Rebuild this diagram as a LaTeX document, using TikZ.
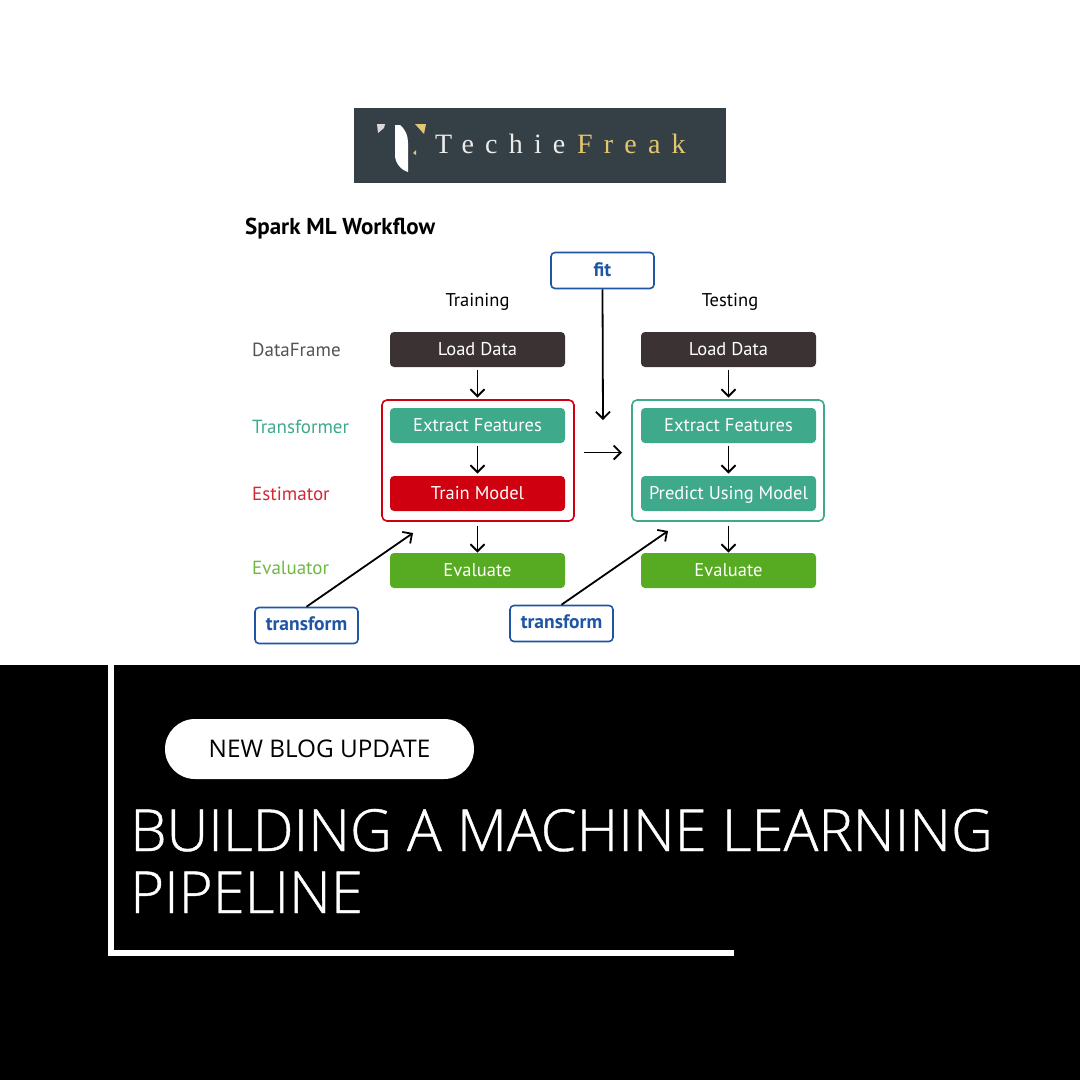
\documentclass[tikz,border=0pt]{standalone}
\usepackage{fontspec}
\setmainfont{PT Sans}
\newfontfamily\bannerfont[FakeBold=0.7]{Open Sans Light}
\newfontfamily\badgefont{Open Sans}
\newfontfamily\logofont[LetterSpace=40]{Liberation Serif}
\usetikzlibrary{positioning}
\usetikzlibrary{arrows.meta}
\definecolor{logobg}{HTML}{344045}
\definecolor{logogold}{HTML}{E3C670}
\definecolor{loadcol}{HTML}{3B3233}
\definecolor{transcol}{HTML}{3FA98C}
\definecolor{estcol}{HTML}{CF000F}
\definecolor{evalcol}{HTML}{57AB23}
\definecolor{callcol}{HTML}{1F55A5}
\tikzset{
    stage/.style = {rectangle, rounded corners = 4pt, minimum width = 175pt, minimum height = 35pt, inner sep = 0pt, text = white, text height = 15pt, text depth = 3pt, font = \fontsize{18.5}{18.5}\selectfont},
    callbox/.style = {rectangle, draw = callcol, line width = 1.6pt, fill = white, rounded corners = 4pt, minimum width = 103pt, minimum height = 36pt, inner sep = 0pt, text = callcol, text height = 14pt, text depth = 5pt, font = \fontsize{19.5}{19.5}\selectfont\bfseries},
    rowlabel/.style = {anchor = base west, inner sep = 0pt, font = \fontsize{19}{19}\selectfont},
    columnhead/.style = {anchor = base, inner sep = 0pt, font = \fontsize{18.5}{18.5}\selectfont},
    flow/.style = {black, line width = 1.8pt, -{Straight Barb[length = 7pt, width = 14pt]}}
}
\begin{document}
\begin{tikzpicture}[x = 1pt, y = -1pt]
    \useasboundingbox (0, 0) rectangle (1080, 1080);
    \fill[white] (0, 0) rectangle (1080, 665);
    \fill[black] (0, 665) rectangle (1080, 1080);
    % logo
    \fill[logobg] (354, 108) rectangle (726, 183);
    \fill[white] (395, 125) -- (400, 125) .. controls (406, 130) and (408, 136) .. (408, 143) -- (408, 172) .. controls (401, 170) and (395, 163) .. (395, 155) -- cycle;
    \fill[white!85!black] (377, 124) -- (385, 124) -- (384, 128) -- (378, 133) -- cycle;
    \fill[logogold] (415, 124) -- (426, 124) -- (424, 134) -- cycle;
    \fill[logogold] (416, 150) -- (416, 155) -- (413, 153) -- cycle;
    \node[anchor = base west, inner sep = 0pt, text = white!85!gray, font = \fontsize{28}{28}\logofont] (logotechie) at (435, 153) {Techie};
    \node[anchor = base west, inner sep = 0pt, text = logogold, font = \fontsize{28}{28}\logofont] (logofreak) at (577, 153) {Freak};
    % diagram
    \node[anchor = base west, inner sep = 0pt, font = \fontsize{23}{23}\selectfont\bfseries] (title) at (245, 234) {Spark ML Workflow};
    \node[columnhead] (training) at (477.5, 306) {Training};
    \node[columnhead] (testing) at (730, 306) {Testing};
    \node[rowlabel, text = loadcol!85!white] (dataframe) at (252, 356) {DataFrame};
    \node[rowlabel, text = transcol] (transformer) at (252, 433) {Transformer};
    \node[rowlabel, text = estcol!85!white] (estimator) at (252, 500) {Estimator};
    \node[rowlabel, text = evalcol!85!white] (evaluator) at (252, 574) {Evaluator};
    \draw[estcol, line width = 1.6pt, rounded corners = 5pt] (382, 400) rectangle (574, 521);
    \draw[transcol, line width = 1.6pt, rounded corners = 5pt] (632, 400) rectangle (824, 521);
    \node[stage, fill = loadcol] (loadtrain) at (477.5, 349.5) {Load Data};
    \node[stage, fill = transcol] (extracttrain) at (477.5, 425.5) {Extract Features};
    \node[stage, fill = estcol] (trainmodel) at (477.5, 493.5) {Train Model};
    \node[stage, fill = evalcol] (evaltrain) at (477.5, 570.5) {Evaluate};
    \node[stage, fill = loadcol] (loadtest) at (728.5, 349.5) {Load Data};
    \node[stage, fill = transcol] (extracttest) at (728.5, 425.5) {Extract Features};
    \node[stage, fill = transcol] (predict) at (728.5, 493.5) {Predict Using Model};
    \node[stage, fill = evalcol] (evaltest) at (728.5, 570.5) {Evaluate};
    \node[callbox, text height = 16pt, text depth = 4pt] (fit) at (602.5, 270.5) {fit};
    \node[callbox] (transformtrain) at (306.5, 625.5) {transform};
    \node[callbox] (transformtest) at (561.5, 623.5) {transform};
    \coordinate (fitend) at (603, 420);
    \coordinate (nextstart) at (584, 452.5);
    \coordinate (nextend) at (622, 452.5);
    \coordinate (trainend) at (413, 533);
    \coordinate (testend) at (668, 531);
    \draw[flow] (loadtrain) ++(0, 20) -- ++(0, 28);
    \draw[flow] (extracttrain) ++(0, 20) -- ++(0, 28);
    \draw[flow] (trainmodel) ++(0, 32) -- ++(0, 27);
    \draw[flow] (loadtest) ++(0, 20) -- ++(0, 28);
    \draw[flow] (extracttest) ++(0, 20) -- ++(0, 28);
    \draw[flow] (predict) ++(0, 32) -- ++(0, 27);
    \draw[flow] (fit.south) -- (fitend);
    \draw[flow] (nextstart) -- (nextend);
    \draw[flow] (transformtrain.north) -- (trainend);
    \draw[flow] (transformtest.north) -- (testend);
    % banner
    \draw[white, line width = 6pt] (111, 665) -- (111, 953) -- (734, 953);
    \node[fill = white, rounded corners = 30pt, minimum width = 309pt, minimum height = 60pt, inner sep = 0pt, font = \fontsize{24.3}{24.3}\selectfont\badgefont] (badge) at (319.5, 749) {NEW BLOG UPDATE};
    \node[anchor = base west, inner sep = 0pt, text = white, font = \fontsize{58}{58}\selectfont\bannerfont] (headline) at (130, 851) {BUILDING A MACHINE LEARNING};
    \node[anchor = base west, inner sep = 0pt, text = white, font = \fontsize{58}{58}\selectfont\bannerfont] (headlinetwo) at (130, 913) {PIPELINE};
\end{tikzpicture}
\end{document}
